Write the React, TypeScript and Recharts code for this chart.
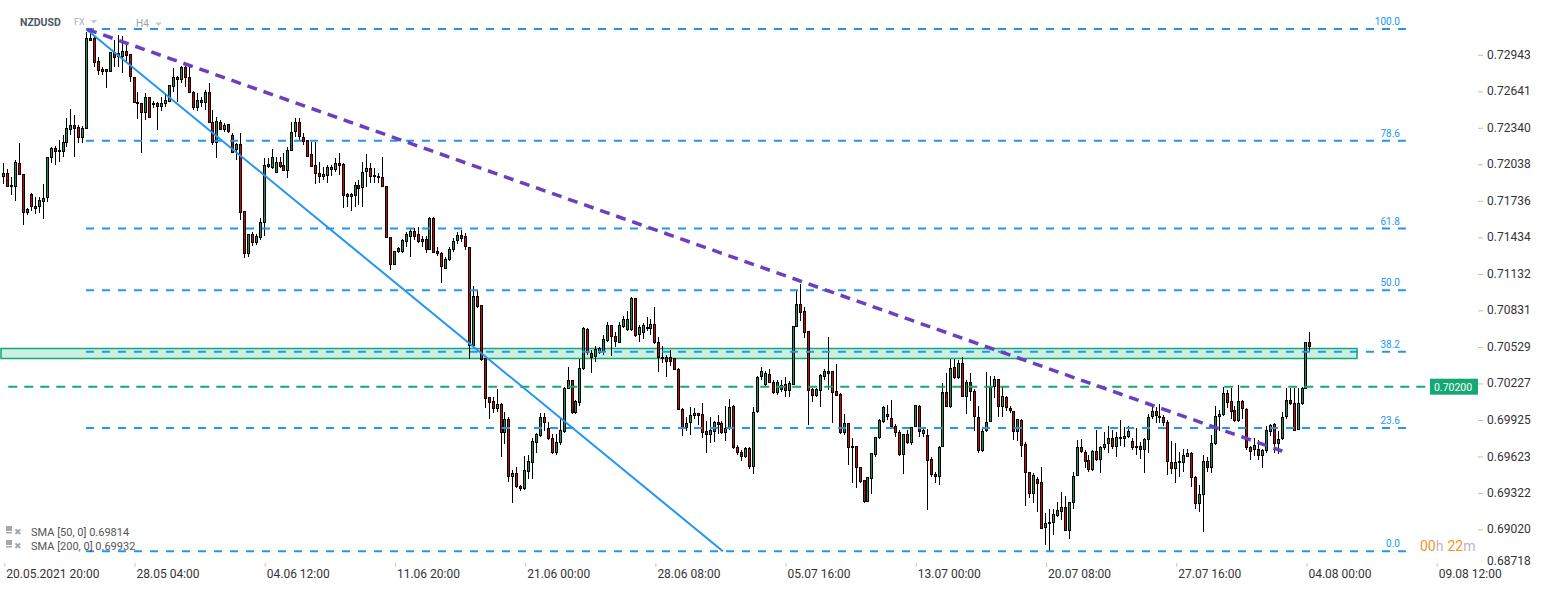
import React from "react";
import {
  ComposedChart,
  Bar,
  XAxis,
  YAxis,
  ReferenceLine,
  ReferenceArea,
  ReferenceDot,
} from "recharts";

// NZDUSD, H4 candles (20.05.2021 20:00 .. 04.08)
const opens = [
  0.7193, 0.71963, 0.71866, 0.71847, 0.72051, 0.71955, 0.71632, 0.71792, 0.71693, 0.71682,
  0.71728, 0.71756, 0.72087, 0.7217, 0.72156, 0.72137, 0.72211, 0.72321, 0.72365, 0.72343,
  0.72253, 0.72327, 0.73079, 0.73079, 0.72889, 0.72823, 0.72823, 0.72798, 0.72964, 0.72955,
  0.72927, 0.72974, 0.7295, 0.72757, 0.72553, 0.72542, 0.72459, 0.72592, 0.72547, 0.72542,
  0.72514, 0.72536, 0.72555, 0.72679, 0.72757, 0.72735, 0.72839, 0.72757, 0.72638, 0.72501,
  0.72569, 0.72542, 0.72638, 0.72385, 0.72211, 0.7239, 0.72321, 0.72371, 0.7228, 0.72156,
  0.72205, 0.71651, 0.71296, 0.71461, 0.71384, 0.71426, 0.7155, 0.7204, 0.72004, 0.71963,
  0.72054, 0.72032, 0.71985, 0.7215, 0.72302, 0.7239, 0.72266, 0.72238, 0.72123, 0.72032,
  0.71963, 0.71935, 0.71941, 0.7199, 0.7199, 0.72046, 0.7204, 0.7179, 0.71765, 0.71778,
  0.71864, 0.71839, 0.71971, 0.72004, 0.71949, 0.71941, 0.7193, 0.71858, 0.71434, 0.71202,
  0.71346, 0.7131, 0.71398, 0.71439, 0.71489, 0.71461, 0.71398, 0.7142, 0.71329, 0.71596,
  0.71321, 0.71307, 0.71174, 0.71246, 0.71329, 0.71406, 0.71453, 0.71445, 0.71354, 0.70535,
  0.70949, 0.70874, 0.70436, 0.70114, 0.70081, 0.70014, 0.70056, 0.69816, 0.69932, 0.69452,
  0.69485, 0.69378, 0.69353, 0.69494, 0.69568, 0.69733, 0.69791, 0.69948, 0.69857, 0.69775,
  0.69651, 0.69733, 0.69824, 0.7018, 0.70254, 0.69981, 0.70064, 0.70345, 0.70676, 0.70477,
  0.70444, 0.70477, 0.70486, 0.70577, 0.70709, 0.70618, 0.7056, 0.70692, 0.70668, 0.70668,
  0.70932, 0.70626, 0.70643, 0.70692, 0.70676, 0.70717, 0.70568, 0.70428, 0.70444, 0.70444,
  0.70436, 0.70345, 0.70014, 0.69857, 0.69899, 0.69957, 0.69981, 0.69973, 0.69832, 0.69799,
  0.69824, 0.69907, 0.69899, 0.69816, 0.69849, 0.70039, 0.697, 0.69659, 0.69618, 0.69692,
  0.69535, 0.6999, 0.70279, 0.70213, 0.70304, 0.70238, 0.70147, 0.70213, 0.70221, 0.70163,
  0.70213, 0.70692, 0.70883, 0.70825, 0.70659, 0.7018, 0.70122, 0.70163, 0.70279, 0.70329,
  0.70329, 0.70163, 0.70138, 0.69816, 0.69899, 0.69708, 0.69708, 0.69535, 0.69427, 0.69245,
  0.69436, 0.69634, 0.69775, 0.69907, 0.69973, 0.6994, 0.69874, 0.69824, 0.69634, 0.69808,
  0.69733, 0.69866, 0.70039, 0.69808, 0.69799, 0.69601, 0.69477, 0.69452, 0.697, 0.70155,
  0.70031, 0.70362, 0.70271, 0.70395, 0.70114, 0.70238, 0.70163, 0.69948, 0.69667, 0.69832,
  0.69907, 0.70196, 0.70262, 0.70031, 0.70114, 0.70023, 0.69998, 0.69824, 0.69923, 0.69725,
  0.69494, 0.69312, 0.69436, 0.69411, 0.6903, 0.69064, 0.69072, 0.6913, 0.69163, 0.69204,
  0.69006, 0.69237, 0.6946, 0.697, 0.69659, 0.69593, 0.6951, 0.69667, 0.69593, 0.69692,
  0.69725, 0.69775, 0.697, 0.69783, 0.69766, 0.69783, 0.6975, 0.69708, 0.69708, 0.69675,
  0.69758, 0.69948, 0.69998, 0.69957, 0.69948, 0.69907, 0.69576, 0.69518, 0.69584, 0.69568,
  0.69618, 0.69651, 0.69452, 0.69229, 0.69303, 0.69584, 0.69527, 0.69725, 0.69948, 0.69965,
  0.70147, 0.70081, 0.70006, 0.69915, 0.70081, 0.70014, 0.697, 0.69675, 0.69684, 0.69626,
  0.69667, 0.69824, 0.6989, 0.69725, 0.69766, 0.69948, 0.70089, 0.70064, 0.69841, 0.70056,
  0.7018, 0.70568,
];

const highs = [
  0.72051, 0.71996, 0.7193, 0.72073, 0.72211, 0.71955, 0.71674, 0.71798, 0.7177, 0.71765,
  0.71875, 0.721, 0.72183, 0.72189, 0.72238, 0.7228, 0.72418, 0.72492, 0.72445, 0.72362,
  0.72354, 0.73134, 0.73152, 0.73107, 0.72927, 0.72845, 0.72823, 0.72969, 0.73065, 0.73107,
  0.73098, 0.73024, 0.7295, 0.72757, 0.72638, 0.72542, 0.7263, 0.72592, 0.72561, 0.72555,
  0.72596, 0.72611, 0.72693, 0.72831, 0.72768, 0.7285, 0.7285, 0.72859, 0.72644, 0.72625,
  0.72596, 0.72652, 0.72712, 0.72487, 0.72431, 0.72404, 0.72377, 0.72371, 0.72294, 0.72211,
  0.72294, 0.71651, 0.71461, 0.7148, 0.71461, 0.71591, 0.72087, 0.72087, 0.72162, 0.721,
  0.721, 0.72133, 0.72183, 0.7239, 0.72418, 0.72418, 0.72299, 0.72238, 0.72224, 0.72224,
  0.72059, 0.72018, 0.72032, 0.72032, 0.72087, 0.72133, 0.72046, 0.71798, 0.71798, 0.71894,
  0.71908, 0.72059, 0.72123, 0.72046, 0.72004, 0.71963, 0.721, 0.71858, 0.71439, 0.71318,
  0.71351, 0.71417, 0.7148, 0.71508, 0.71508, 0.71522, 0.71445, 0.71445, 0.71599, 0.71604,
  0.71356, 0.71315, 0.71274, 0.71351, 0.71426, 0.7148, 0.71494, 0.71467, 0.71354, 0.71031,
  0.70998, 0.70874, 0.70436, 0.70116, 0.70116, 0.7018, 0.70064, 0.69992, 0.69951, 0.6951,
  0.69537, 0.69386, 0.69626, 0.69634, 0.69772, 0.69818, 0.69979, 0.69979, 0.69909, 0.69808,
  0.69813, 0.69929, 0.70199, 0.70364, 0.70254, 0.70089, 0.70425, 0.7069, 0.70682, 0.70502,
  0.70535, 0.7053, 0.70626, 0.70736, 0.70709, 0.70653, 0.70736, 0.70783, 0.70827, 0.70943,
  0.70932, 0.70709, 0.70728, 0.70778, 0.70756, 0.70855, 0.70612, 0.70535, 0.70461, 0.70502,
  0.70436, 0.70351, 0.7002, 0.69951, 0.70033, 0.7002, 0.69984, 0.70062, 0.69918, 0.69951,
  0.69918, 0.69965, 0.69918, 0.70039, 0.70095, 0.70047, 0.69717, 0.69675, 0.69698, 0.69698,
  0.70033, 0.70287, 0.70364, 0.70331, 0.70343, 0.70254, 0.70254, 0.70254, 0.70281, 0.70248,
  0.70701, 0.70992, 0.71048, 0.7086, 0.70659, 0.70186, 0.70186, 0.70304, 0.70343, 0.70607,
  0.70329, 0.70386, 0.70144, 0.69973, 0.69901, 0.69772, 0.69708, 0.69537, 0.69427, 0.69455,
  0.69653, 0.69785, 0.69929, 0.70039, 0.70047, 0.70089, 0.6989, 0.69841, 0.69813, 0.69841,
  0.69868, 0.70047, 0.70047, 0.69855, 0.69847, 0.69615, 0.69496, 0.69708, 0.70227, 0.7031,
  0.70425, 0.70425, 0.7042, 0.70442, 0.70254, 0.7031, 0.70177, 0.70039, 0.69847, 0.70323,
  0.70287, 0.70287, 0.70262, 0.70194, 0.70122, 0.70039, 0.7, 0.69937, 0.69929, 0.69744,
  0.69496, 0.69483, 0.69455, 0.69537, 0.69157, 0.69193, 0.69185, 0.69243, 0.69331, 0.69295,
  0.69243, 0.69496, 0.69758, 0.69764, 0.69675, 0.69634, 0.69675, 0.69841, 0.69708, 0.69827,
  0.69874, 0.69841, 0.69827, 0.69923, 0.69863, 0.69874, 0.69772, 0.69855, 0.69744, 0.69772,
  0.69973, 0.70056, 0.70033, 0.70056, 0.69965, 0.69923, 0.69752, 0.69736, 0.69661, 0.69689,
  0.69689, 0.69661, 0.6946, 0.69386, 0.69634, 0.6962, 0.69799, 0.70039, 0.70006, 0.70199,
  0.70171, 0.70186, 0.70039, 0.70213, 0.70089, 0.7002, 0.69708, 0.69772, 0.69758, 0.69689,
  0.69874, 0.6989, 0.69896, 0.69835, 0.69992, 0.70186, 0.70186, 0.70186, 0.70186, 0.70199,
  0.70571, 0.70653,
];

const lows = [
  0.71875, 0.71852, 0.71784, 0.71737, 0.71947, 0.71538, 0.71618, 0.71654, 0.71627, 0.71632,
  0.71583, 0.71728, 0.72046, 0.72032, 0.72059, 0.721, 0.72183, 0.7228, 0.721, 0.72211,
  0.72216, 0.72327, 0.73059, 0.72845, 0.72776, 0.72776, 0.72666, 0.72798, 0.72845, 0.72845,
  0.72795, 0.72873, 0.72721, 0.72542, 0.7241, 0.72129, 0.72404, 0.72418, 0.72501, 0.72321,
  0.72481, 0.72509, 0.72555, 0.72638, 0.72555, 0.72707, 0.72679, 0.72625, 0.72487, 0.72481,
  0.72509, 0.72487, 0.72377, 0.72197, 0.72087, 0.72321, 0.72307, 0.72294, 0.72133, 0.72073,
  0.71577, 0.7126, 0.71274, 0.71362, 0.7137, 0.71412, 0.71445, 0.72004, 0.71996, 0.71963,
  0.72004, 0.71985, 0.71922, 0.7215, 0.72266, 0.72238, 0.72197, 0.721, 0.72018, 0.71875,
  0.7188, 0.71908, 0.7188, 0.71941, 0.71976, 0.71949, 0.71674, 0.71687, 0.71654, 0.71687,
  0.71701, 0.71682, 0.71852, 0.7188, 0.71885, 0.7188, 0.71847, 0.71426, 0.71164, 0.71202,
  0.71302, 0.71302, 0.71356, 0.71269, 0.71412, 0.71389, 0.71351, 0.71307, 0.71329, 0.71302,
  0.71279, 0.71054, 0.71169, 0.71241, 0.71315, 0.71379, 0.71398, 0.71329, 0.70428, 0.70519,
  0.70849, 0.70414, 0.70023, 0.69932, 0.69981, 0.69992, 0.69618, 0.69725, 0.69413, 0.69237,
  0.69359, 0.69339, 0.69345, 0.69441, 0.69441, 0.69648, 0.69785, 0.69835, 0.69758, 0.69642,
  0.69634, 0.69717, 0.69818, 0.7018, 0.69973, 0.69973, 0.70039, 0.70337, 0.70461, 0.70312,
  0.70405, 0.70469, 0.70461, 0.70571, 0.70453, 0.7053, 0.7056, 0.70682, 0.70662, 0.70662,
  0.70612, 0.70571, 0.70591, 0.70662, 0.70626, 0.70552, 0.70323, 0.70397, 0.70281, 0.7037,
  0.70337, 0.70006, 0.69791, 0.69835, 0.69799, 0.69937, 0.69882, 0.69772, 0.69653, 0.69736,
  0.69744, 0.69813, 0.69813, 0.69752, 0.69841, 0.69689, 0.69634, 0.69587, 0.69607, 0.69516,
  0.69477, 0.69984, 0.70254, 0.70207, 0.70227, 0.70138, 0.7013, 0.70157, 0.70111, 0.70116,
  0.70213, 0.7069, 0.70744, 0.70599, 0.69882, 0.70075, 0.70111, 0.70033, 0.70254, 0.70171,
  0.69896, 0.70122, 0.69808, 0.69799, 0.69551, 0.694, 0.69359, 0.69405, 0.69235, 0.69245,
  0.69312, 0.6962, 0.69764, 0.69901, 0.69923, 0.69863, 0.69785, 0.69626, 0.69477, 0.69725,
  0.69717, 0.69863, 0.69785, 0.69785, 0.69179, 0.69455, 0.694, 0.69386, 0.697, 0.70031,
  0.70028, 0.70262, 0.70262, 0.70111, 0.69973, 0.70083, 0.69835, 0.69656, 0.69661, 0.69827,
  0.69907, 0.70103, 0.69951, 0.69951, 0.7, 0.69984, 0.69758, 0.69752, 0.69615, 0.69215,
  0.69284, 0.69235, 0.69165, 0.69022, 0.6889, 0.6884, 0.68973, 0.69124, 0.69097, 0.69006,
  0.68945, 0.69193, 0.6946, 0.69648, 0.69524, 0.69496, 0.69504, 0.69587, 0.69488, 0.69675,
  0.69648, 0.69689, 0.69615, 0.69708, 0.69703, 0.69772, 0.69675, 0.69634, 0.69599, 0.69483,
  0.69648, 0.69937, 0.69901, 0.69901, 0.69874, 0.69469, 0.69477, 0.694, 0.6945, 0.69496,
  0.69615, 0.69372, 0.69185, 0.69165, 0.69, 0.69496, 0.69488, 0.69717, 0.69835, 0.69957,
  0.70028, 0.69929, 0.6991, 0.6991, 0.69929, 0.69675, 0.69593, 0.69626, 0.69593, 0.69529,
  0.69648, 0.69791, 0.69648, 0.6964, 0.69758, 0.69937, 0.70047, 0.69832, 0.69841, 0.70045,
  0.70177, 0.70488,
];

const closes = [
  0.71963, 0.71852, 0.71847, 0.72057, 0.71947, 0.71632, 0.71665, 0.71682, 0.7167, 0.71742,
  0.71756, 0.721, 0.7217, 0.72142, 0.72137, 0.72219, 0.72335, 0.7236, 0.72332, 0.72255,
  0.72335, 0.73079, 0.73059, 0.72873, 0.72811, 0.72803, 0.72798, 0.72964, 0.72919, 0.72922,
  0.72977, 0.72933, 0.72757, 0.72542, 0.72536, 0.72459, 0.72592, 0.72418, 0.7253, 0.72514,
  0.72542, 0.72569, 0.72693, 0.72757, 0.72735, 0.72839, 0.72749, 0.72625, 0.72501, 0.72569,
  0.72542, 0.72638, 0.72377, 0.72211, 0.72396, 0.72321, 0.72362, 0.72307, 0.72133, 0.72205,
  0.71637, 0.71296, 0.71461, 0.71384, 0.71445, 0.71558, 0.72032, 0.72013, 0.72095, 0.72059,
  0.72018, 0.71985, 0.72156, 0.72302, 0.7239, 0.72266, 0.72224, 0.721, 0.72018, 0.71957,
  0.71935, 0.71957, 0.72018, 0.72018, 0.72046, 0.72026, 0.71778, 0.7177, 0.7179, 0.71864,
  0.71831, 0.71976, 0.72004, 0.71935, 0.7193, 0.71922, 0.71847, 0.71426, 0.71202, 0.71318,
  0.7131, 0.71412, 0.71461, 0.71489, 0.71439, 0.71398, 0.7142, 0.71329, 0.71591, 0.71307,
  0.71293, 0.71186, 0.71255, 0.71335, 0.71406, 0.71453, 0.71417, 0.71351, 0.70535, 0.70949,
  0.70858, 0.7042, 0.70097, 0.70064, 0.70014, 0.70056, 0.69816, 0.69932, 0.69452, 0.69485,
  0.69369, 0.69353, 0.6951, 0.69584, 0.6975, 0.69808, 0.69948, 0.69899, 0.69766, 0.69651,
  0.69741, 0.69841, 0.70188, 0.70254, 0.69981, 0.70081, 0.70353, 0.70684, 0.70477, 0.70436,
  0.70511, 0.70519, 0.70593, 0.70709, 0.7061, 0.70568, 0.70709, 0.70759, 0.70759, 0.70932,
  0.70618, 0.70692, 0.70709, 0.70676, 0.70717, 0.7056, 0.70436, 0.70444, 0.70403, 0.70403,
  0.70337, 0.70006, 0.69857, 0.69899, 0.69965, 0.69981, 0.69957, 0.69816, 0.69799, 0.69841,
  0.69907, 0.69882, 0.69816, 0.69857, 0.70031, 0.69692, 0.69651, 0.69618, 0.69692, 0.69535,
  0.6999, 0.70279, 0.70329, 0.70312, 0.70229, 0.70147, 0.70238, 0.70171, 0.70163, 0.70229,
  0.70701, 0.70883, 0.70808, 0.70643, 0.70163, 0.70122, 0.7018, 0.70295, 0.70329, 0.70304,
  0.70147, 0.70122, 0.69816, 0.69899, 0.69692, 0.69692, 0.69527, 0.69411, 0.69245, 0.69452,
  0.69651, 0.69783, 0.69923, 0.70031, 0.69948, 0.69866, 0.69816, 0.69634, 0.69808, 0.69733,
  0.69866, 0.70047, 0.69824, 0.69841, 0.69584, 0.69469, 0.69452, 0.697, 0.70155, 0.70031,
  0.70353, 0.70271, 0.70395, 0.70114, 0.70238, 0.70155, 0.69948, 0.69667, 0.69832, 0.69907,
  0.70196, 0.70262, 0.70031, 0.70122, 0.70023, 0.69998, 0.69824, 0.69932, 0.69708, 0.69485,
  0.69312, 0.69469, 0.69394, 0.69022, 0.69072, 0.6908, 0.69146, 0.69179, 0.69204, 0.69006,
  0.69245, 0.6946, 0.697, 0.69659, 0.69576, 0.6951, 0.69667, 0.69593, 0.697, 0.69725,
  0.69775, 0.697, 0.69783, 0.69766, 0.69791, 0.69832, 0.69692, 0.69692, 0.69675, 0.69766,
  0.69948, 0.69998, 0.69957, 0.6994, 0.69899, 0.69576, 0.69518, 0.69576, 0.69568, 0.69634,
  0.69651, 0.69444, 0.69229, 0.69312, 0.69584, 0.69527, 0.69733, 0.69957, 0.69973, 0.70147,
  0.70064, 0.6999, 0.69915, 0.70081, 0.70014, 0.69692, 0.69659, 0.69717, 0.69626, 0.69675,
  0.69841, 0.69882, 0.69725, 0.69766, 0.69948, 0.70089, 0.70056, 0.69832, 0.70064, 0.70188,
  0.70568, 0.70527,
];

const xTickLabels = [
  "20.05.2021 20:00",
  "28.05 04:00",
  "04.06 12:00",
  "11.06 20:00",
  "21.06 00:00",
  "28.06 08:00",
  "05.07 16:00",
  "13.07 00:00",
  "20.07 08:00",
  "27.07 16:00",
  "04.08 00:00",
  "09.08 12:00",
];
const barsPerTick = 33;

const yTicks = [
  0.68718, 0.6902, 0.69322, 0.69623, 0.69925, 0.70227, 0.70529, 0.70831,
  0.71132, 0.71434, 0.71736, 0.72038, 0.7234, 0.72641, 0.72943,
];

const fibLabels = ["100.0", "78.6", "61.8", "50.0", "38.2", "23.6", "0.0"];
const fibPrices = [0.73156, 0.72232, 0.71507, 0.70998, 0.70489, 0.69859, 0.6884];

const zoneLow = 0.70434;
const zoneHigh = 0.70516;
const markPrice = 0.702;
const markLabel = "0.70200";

const blueTrend = [
  { x: 20.7, y: 0.73156 },
  { x: 182.1, y: 0.6884 },
];
const purpleTrend = [
  { x: 21, y: 0.73154 },
  { x: 323.9, y: 0.69667 },
];

const smaRows = ["SMA [50, 0] 0.69814", "SMA [200, 0] 0.69932"];

const candles = opens.map((o, i) => ({
  i,
  o,
  h: highs[i],
  l: lows[i],
  c: closes[i],
}));

const xTicks = xTickLabels.map((_, k) => k * barsPerTick);

const FIB = "#2196f3";
const GREEN = "#109155";
const RED = "#d60000";
const MINT = "#14a873";
const FONT = "Roboto, 'Noto Sans', sans-serif";

const fibStart = 20.7;
const fibEnd = 355.2;

const Candle = (props: any) => {
  const { x, y, width, height, payload } = props;
  if (x == null || !payload) return null;
  const { o, h, l, c } = payload;
  const top = height >= 0 ? y : y + height;
  const ht = Math.abs(height || 0);
  const span = h - l || 1e-9;
  const py = (v: number) => top + ((h - v) / span) * ht;
  const cx = Math.floor(x + width / 2);
  const up = c >= o;
  const bTop = Math.round(py(Math.max(o, c)));
  let bBot = Math.round(py(Math.min(o, c)));
  if (bBot - bTop < 2) bBot = bTop + 2;
  return (
    <g>
      <line
        x1={cx + 0.5}
        x2={cx + 0.5}
        y1={Math.round(top)}
        y2={Math.round(top + ht)}
        stroke="#000"
        strokeWidth={1}
      />
      <rect x={cx - 1} y={bTop} width={3} height={bBot - bTop} fill="#000" />
      {bBot - bTop > 2 && (
        <rect
          x={cx}
          y={bTop + 1}
          width={1}
          height={bBot - bTop - 2}
          fill={up ? GREEN : RED}
        />
      )}
    </g>
  );
};

const XTick = (props: any) => {
  const { x, y, payload } = props;
  const k = xTicks.indexOf(payload.value);
  return (
    <g>
      <line x1={x + 0.5} x2={x + 0.5} y1={y - 3} y2={y + 1} stroke="#c8c8c8" />
      <text x={x + 2} y={y + 12} fontSize={12} fill="#333" fontFamily={FONT}>
        {xTickLabels[k]}
      </text>
    </g>
  );
};

const YTick = (props: any) => {
  const { x, y, payload } = props;
  const clamped = y > 562;
  const ty = clamped ? 561 : y;
  return (
    <g>
      {!clamped && (
        <line x1={x - 9} x2={x - 4} y1={y + 0.5} y2={y + 0.5} stroke="#bdbdbd" />
      )}
      <text x={x} y={ty + 4} fontSize={12} fill="#333" fontFamily={FONT}>
        {payload.value.toFixed(5)}
      </text>
    </g>
  );
};

const App = () => {
  return (
    <div
      style={{
        position: "absolute",
        left: 0,
        top: 0,
        width: 1546,
        height: 590,
        background: "#fff",
        fontFamily: FONT,
      }}
    >
      <ComposedChart
        width={1546}
        height={590}
        data={candles}
        margin={{ top: 0, right: 0, bottom: 0, left: 0 }}
      >
        <XAxis
          dataKey="i"
          type="number"
          domain={[-1.09, 373.47]}
          allowDataOverflow
          ticks={xTicks}
          interval={0}
          height={24}
          axisLine={false}
          tickLine={false}
          tickSize={0}
          tickMargin={0}
          tick={<XTick />}
        />
        <YAxis
          orientation="right"
          type="number"
          domain={[0.68718, 0.73396]}
          allowDataOverflow
          ticks={yTicks}
          interval={0}
          width={68}
          axisLine={false}
          tickLine={false}
          tickSize={0}
          tickMargin={9}
          tick={<YTick />}
        />
        <Bar
          dataKey={(d: any) => [d.l, d.h]}
          barSize={3}
          shape={<Candle />}
          isAnimationActive={false}
        />
        <ReferenceArea
          x1={-0.84}
          x2={342.8}
          y1={zoneLow}
          y2={zoneHigh}
          fill="#2ec28a"
          fillOpacity={0.25}
          stroke={MINT}
          strokeWidth={1.5}
          ifOverflow="visible"
        />
        {fibPrices.map((p, k) => (
          <ReferenceLine
            key={"fib" + k}
            segment={[
              { x: fibStart, y: p },
              { x: fibEnd, y: p },
            ]}
            stroke={FIB}
            strokeWidth={2}
            strokeDasharray="8 8"
            ifOverflow="visible"
          />
        ))}
        {fibPrices.map((p, k) => (
          <ReferenceDot
            key={"fibl" + k}
            x={fibEnd}
            y={p}
            r={0}
            ifOverflow="visible"
            shape={(s: any) => (
              <text
                x={s.cx - 6}
                y={s.cy - 4}
                textAnchor="end"
                fontSize={10}
                fill={FIB}
                fontFamily={FONT}
              >
                {fibLabels[k]}
              </text>
            )}
          />
        ))}
        <ReferenceLine
          segment={[
            { x: 1, y: markPrice },
            { x: 361.3, y: markPrice },
          ]}
          stroke={MINT}
          strokeWidth={2}
          strokeDasharray="9 7"
          ifOverflow="visible"
        />
        <ReferenceDot
          x={361.3}
          y={markPrice}
          r={0}
          ifOverflow="visible"
          shape={(s: any) => (
            <g>
              <rect x={s.cx} y={s.cy - 8} width={48} height={16} fill={MINT} />
              <text
                x={s.cx + 4}
                y={s.cy + 4}
                fontSize={10.5}
                fill="#fff"
                fontFamily={FONT}
              >
                {markLabel}
              </text>
            </g>
          )}
        />
        <ReferenceLine
          segment={blueTrend}
          stroke={FIB}
          strokeWidth={2}
          ifOverflow="visible"
        />
        <ReferenceLine
          segment={purpleTrend}
          stroke="#6a3fc0"
          strokeWidth={3.5}
          strokeDasharray="10 7"
          ifOverflow="visible"
        />
      </ComposedChart>

      <svg
        width={1546}
        height={590}
        style={{ position: "absolute", left: 0, top: 0, pointerEvents: "none" }}
      >
        <text x={20} y={26} fontSize={10.5} fontWeight="bold" fill="#4c5866" fontFamily={FONT}>
          NZDUSD
        </text>
        <text x={74} y={25} fontSize={9} fill="#a3abb3" fontFamily={FONT}>
          FX
        </text>
        <path d="M90.5 20 L97.5 20 L94 23.5 Z" fill="#c5cace" />
        <text x={136} y={27} fontSize={10} fill="#9aa2aa" fontFamily={FONT}>
          H4
        </text>
        <path d="M155 22.5 L162 22.5 L158.5 26 Z" fill="#c5cace" />

        {smaRows.map((t, k) => (
          <g key={t}>
            <rect x={6} y={526 + k * 14} width={6} height={5} fill="#a8a8a8" />
            <rect x={6} y={532 + k * 14} width={6} height={1.5} fill="#a8a8a8" />
            <text x={14} y={535 + k * 14} fontSize={9} fill="#a8a8a8" fontFamily={FONT}>
              ✖
            </text>
            <text x={31} y={536 + k * 14} fontSize={11} fill="#555" fontFamily={FONT}>
              {t}
            </text>
          </g>
        ))}

        <text x={1420} y={551} fontSize={14} fontFamily={FONT}>
          <tspan fill="#f7931e">00</tspan>
          <tspan fill="#b8b8b8">h</tspan>
          <tspan fill="#f7931e" dx={4}>22</tspan>
          <tspan fill="#b8b8b8">m</tspan>
        </text>
      </svg>
    </div>
  );
};

export default App;
